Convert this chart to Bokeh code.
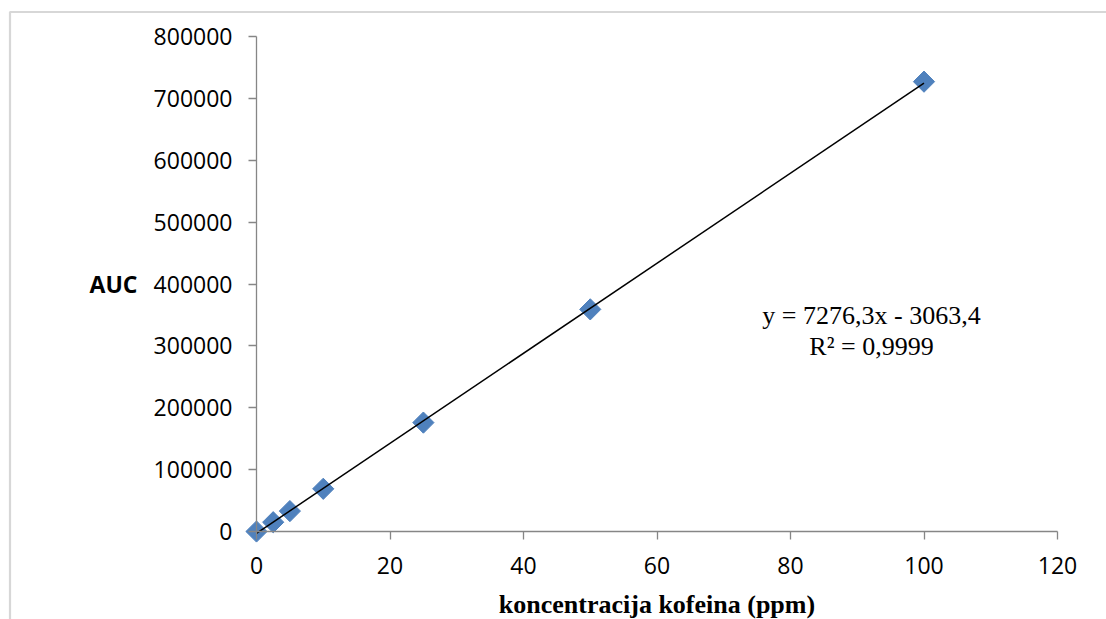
import numpy as np
from bokeh.plotting import figure
from bokeh.models import (Range1d, LinearAxis, FixedTicker, BasicTickFormatter,
                          Label, BoxAnnotation)
from bokeh.embed import file_html
from bokeh.resources import INLINE

# ---- data ----
conc_ppm = [0, 2.5, 5, 10, 25, 50, 100]
auc = [0, 15000, 33000, 69000, 176000, 359000, 727000]
fit_slope = 7276.3
fit_intercept = -3063.4
x_ticks = [0, 20, 40, 60, 80, 100, 120]
y_ticks = [0, 100000, 200000, 300000, 400000, 500000, 600000, 700000, 800000]
x_title = "koncentracija kofeina (ppm)"
y_title = "AUC"
eq_text = "y = 7276,3x - 3063,4\nR\u00b2 = 0,9999"

# ---- layout calibration (pixels) ----
W, H = 1106, 619
PX_X0, PX_XMAX = 256.0, 1057.0
PY_Y0, PY_YMAX = 531.0, 36.0
XMAX, YMAX = 120.0, 800000.0
sx = (PX_XMAX - PX_X0) / XMAX
sy = (PY_Y0 - PY_YMAX) / YMAX


def dx(px):
    return (px - PX_X0) / sx


def dy(py):
    return (PY_Y0 - py) / sy


p = figure(width=W, height=H,
           x_range=Range1d(dx(0), dx(W)), y_range=Range1d(dy(H), dy(0)),
           x_axis_type=None, y_axis_type=None,
           output_backend="svg", toolbar_location=None,
           min_border=0, outline_line_color=None,
           background_fill_color="white", border_fill_color="white")

AXIS_COLOR = "#868686"
TICK_FONT = "Open Sans"
TICK_SIZE = "23px"

xax = LinearAxis(fixed_location=0, bounds=(0, XMAX),
                 ticker=FixedTicker(ticks=x_ticks))
xax.axis_line_color = AXIS_COLOR
xax.axis_line_width = 1.3
xax.major_tick_line_color = AXIS_COLOR
xax.major_tick_line_width = 1.3
xax.major_tick_in = 0
xax.major_tick_out = 8
xax.minor_tick_line_color = None
xax.major_label_text_font = TICK_FONT
xax.major_label_text_font_size = TICK_SIZE
xax.major_label_text_color = "black"
xax.major_label_standoff = 17
xax.axis_label = x_title
xax.axis_label_text_font = "Liberation Serif"
xax.axis_label_text_font_style = "bold"
xax.axis_label_text_font_size = "26px"
xax.axis_label_text_color = "black"
xax.axis_label_standoff = 13
p.add_layout(xax, "below")

yax = LinearAxis(fixed_location=0, bounds=(0, YMAX),
                 ticker=FixedTicker(ticks=y_ticks),
                 formatter=BasicTickFormatter(use_scientific=False))
yax.axis_line_color = AXIS_COLOR
yax.axis_line_width = 1.3
yax.major_tick_line_color = AXIS_COLOR
yax.major_tick_line_width = 1.3
yax.major_tick_in = 0
yax.major_tick_out = 8
yax.minor_tick_line_color = None
yax.major_label_text_font = TICK_FONT
yax.major_label_text_font_size = TICK_SIZE
yax.major_label_text_color = "black"
yax.major_label_standoff = 16
p.add_layout(yax, "left")

# outer chart border (only left and top edges are inside the window)
p.add_layout(BoxAnnotation(left=dx(9.5), right=dx(1300), top=dy(11.5), bottom=dy(900),
                           fill_color=None, line_color="#7a7a7a", line_width=2.2,
                           level="underlay"))

# data points then trendline on top
p.scatter(conc_ppm, auc, marker="square", angle=np.pi / 4, size=15,
          fill_color="#4F81BD", line_color="#4F81BD")
fit_x = [min(conc_ppm), max(conc_ppm)]
fit_y = [fit_slope * v + fit_intercept for v in fit_x]
p.line(fit_x, fit_y, line_color="black", line_width=1.5)

p.add_layout(Label(x=dx(137), y=400000, text=y_title, text_align="right",
                   text_baseline="middle", text_font="Open Sans",
                   text_font_style="bold", text_font_size="23px",
                   text_color="black"))

p.add_layout(Label(x=dx(871), y=dy(330.5), text=eq_text, text_align="center",
                   text_baseline="middle", text_font="Liberation Serif",
                   text_font_size="26px", text_line_height=1.1,
                   text_color="black"))

open("out.html", "w").write(file_html(p, INLINE))
